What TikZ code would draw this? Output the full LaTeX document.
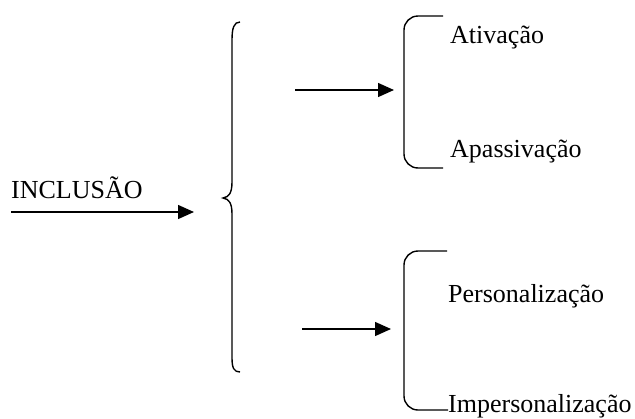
\documentclass[tikz,border=0pt]{standalone}
\usepackage{fontspec}
\setmainfont{Liberation Serif}
\usepackage{tikz}
\usetikzlibrary{arrows.meta}
\usetikzlibrary{positioning}

\tikzset{
  lbl/.style={anchor=base west,inner sep=0pt,font=\fontsize{26}{31}\selectfont},
  brace/.style={line width=1.4pt},
  seta/.style={line width=1.4pt,-{Triangle[length=16pt,width=14pt]}}
}

\begin{document}
\begin{tikzpicture}[x=1pt,y=-1pt]
\useasboundingbox (0,0) rectangle (635,418);

% texts
\node[lbl] (incl) at (11,198) {INCLUSÃO};
\node[lbl] (ativ) at (450,43) {Ativação};
\node[lbl] (apas) at (450,157) {Apassivação};
\node[lbl] (pers) at (448,302) {Personalização};
\node[lbl] (impe) at (448,412) {Impersonalização};

% arrow ends
\coordinate (a1) at (11,212);
\coordinate (b1) at (194,212);
\coordinate (a2) at (295,90);
\coordinate (b2) at (394,90);
\coordinate (a3) at (302,329);
\coordinate (b3) at (391,329);

\draw[seta] (a1)--(b1);
\draw[seta] (a2)--(b2);
\draw[seta] (a3)--(b3);

% big brace
\draw[brace] (240,22) .. controls (234,22) and (232,28) .. (232,40)
  -- (232,182) .. controls (232,193) and (229,197) .. (223,198)
  .. controls (229,199) and (232,203) .. (232,214)
  -- (232,358) .. controls (232,368) and (234,372) .. (240,372);

% small brackets
\draw[brace,rounded corners=14pt] (443,16)--(404,16)--(404,168)--(443,168);
\draw[brace,rounded corners=14pt] (447,251)--(404,251)--(404,410)--(448,410);

\end{tikzpicture}
\end{document}
